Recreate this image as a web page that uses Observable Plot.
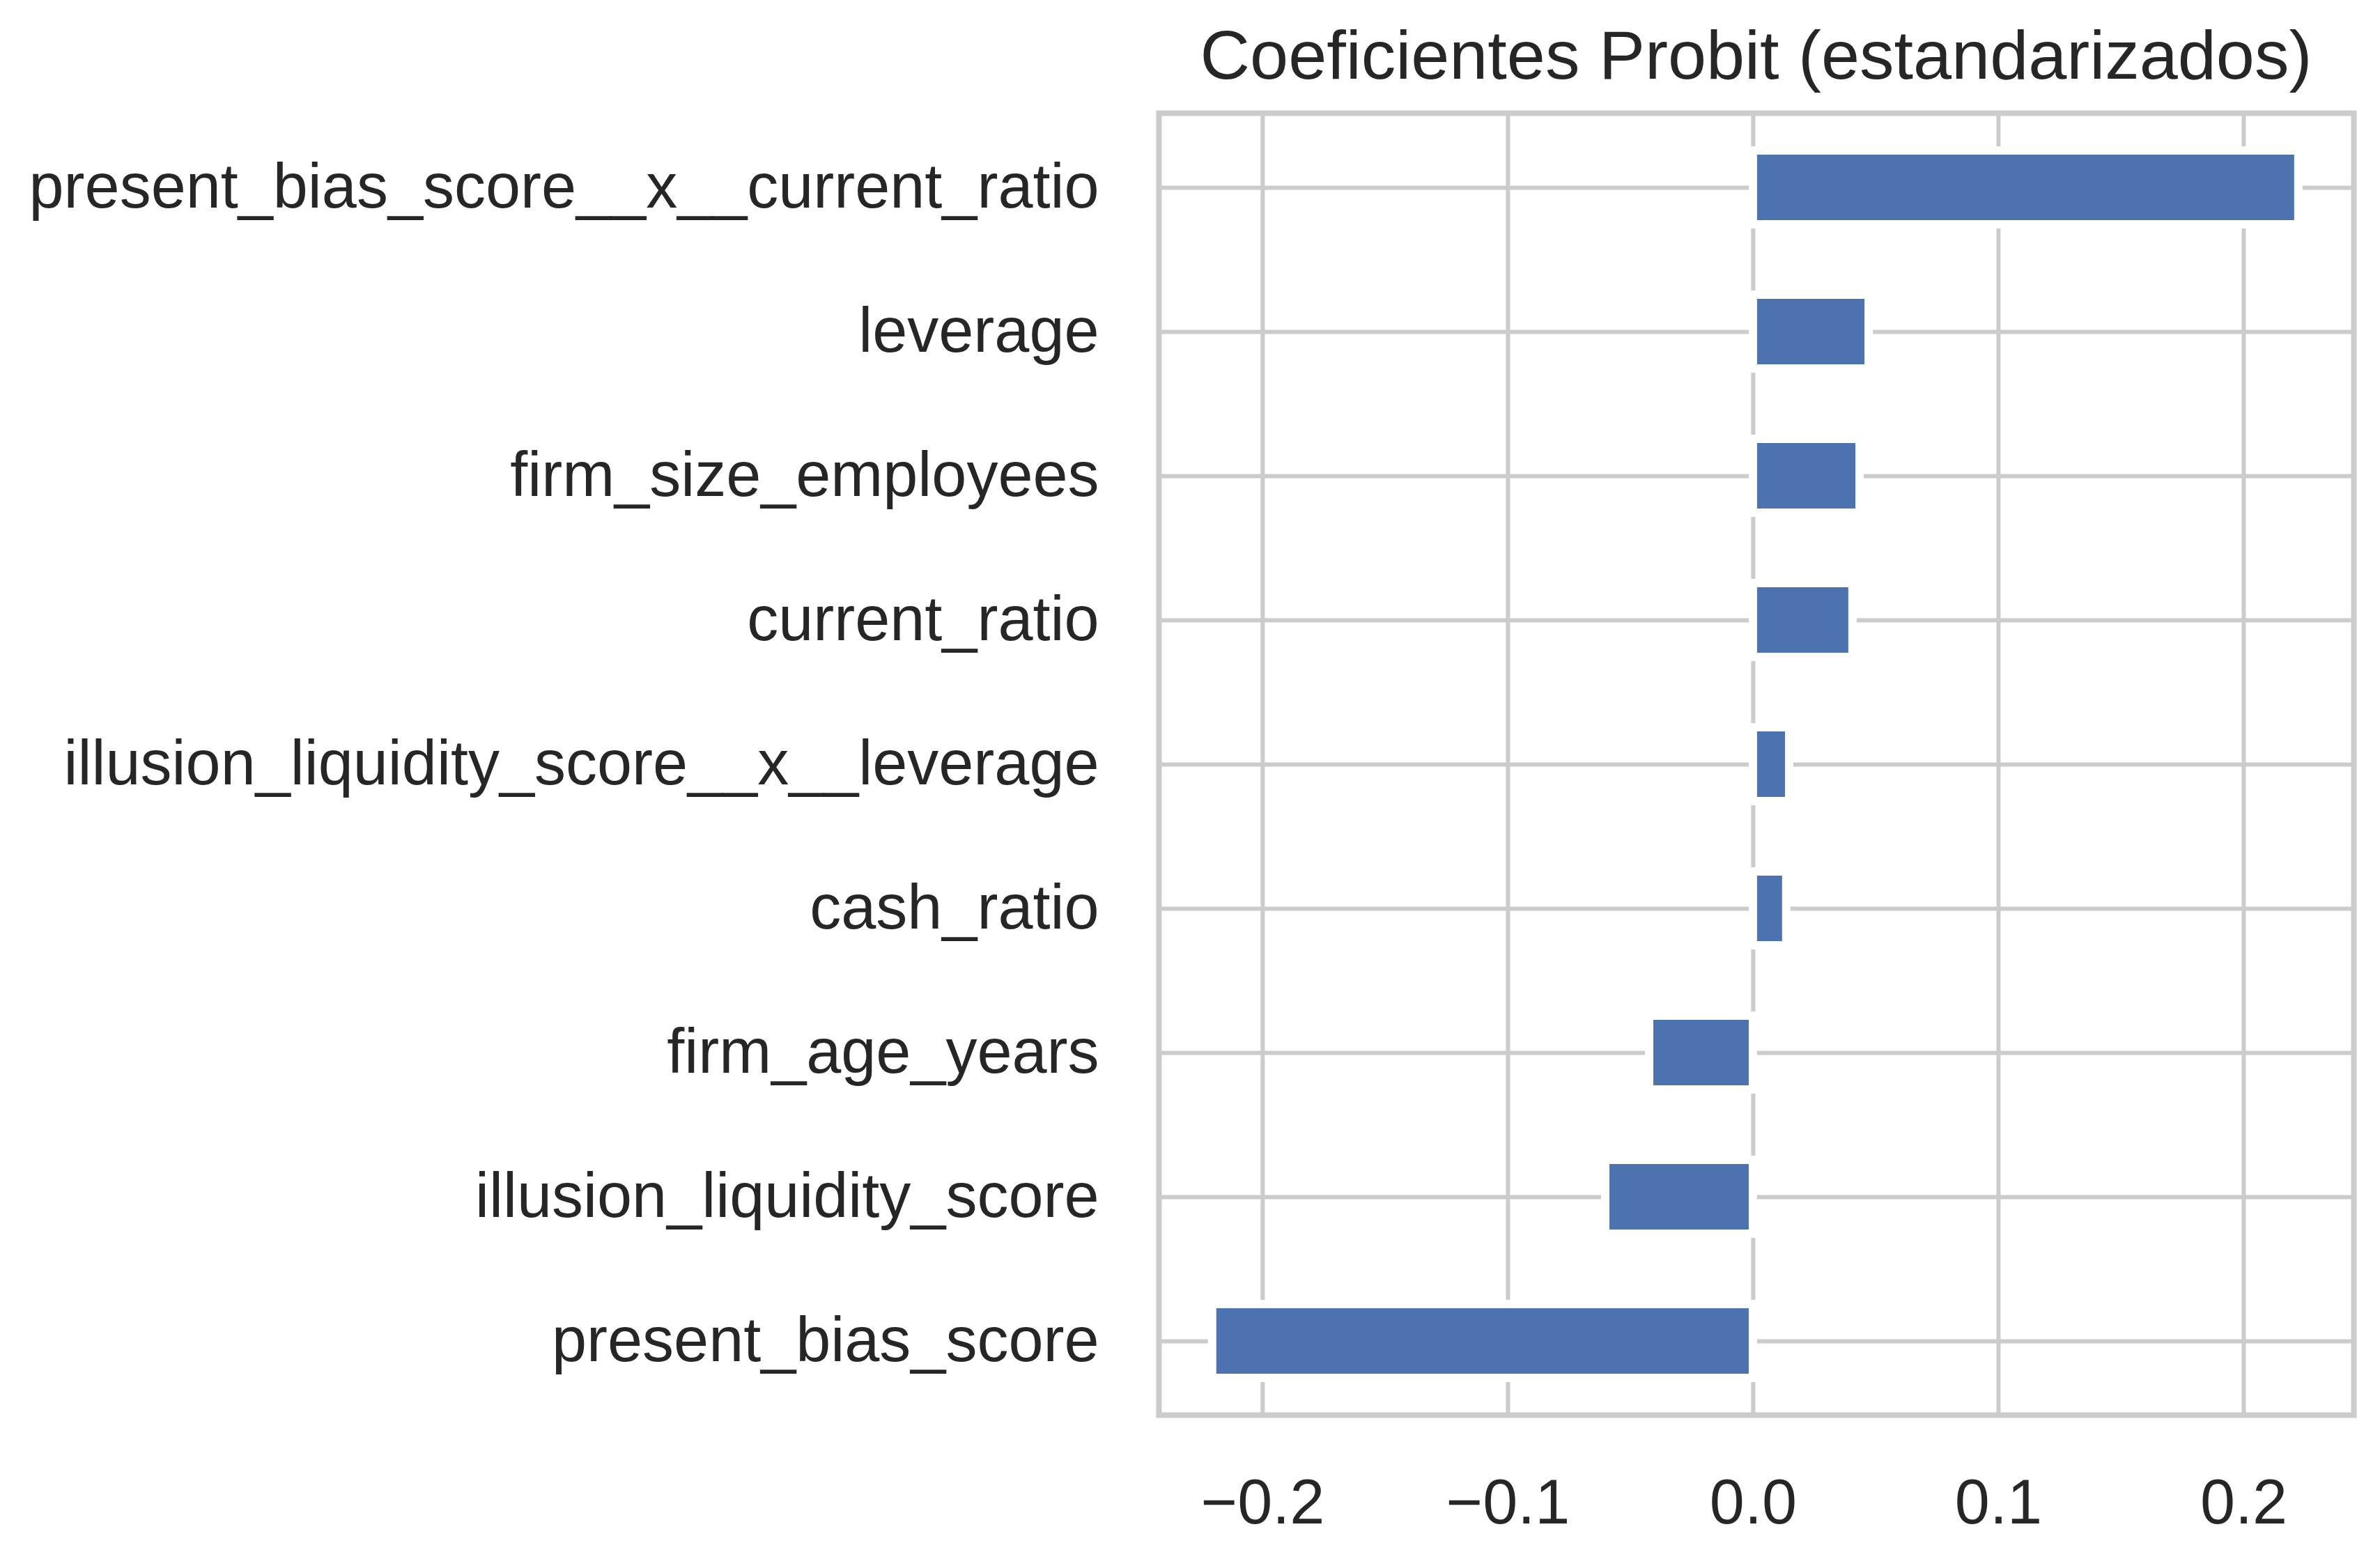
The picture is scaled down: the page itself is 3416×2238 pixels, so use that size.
<!DOCTYPE html>
<html>
<head>
<meta charset="utf-8">
<script src="https://cdn.jsdelivr.net/npm/d3@7"></script>
<script src="https://cdn.jsdelivr.net/npm/@observablehq/plot@0.6"></script>
<style>
  html, body { margin: 0; padding: 0; background: #ffffff; }
  body { width: 3416px; height: 2238px; overflow: hidden; font-family: "Liberation Sans", Arial, sans-serif; }
  #title { height: 157px; line-height: 157px; margin-left: 1663px; width: 1715px; text-align: center; font-size: 99px; color: #262626; white-space: nowrap; }
  #chart svg { display: block; }
</style>
</head>
<body>
<div id="title">Coeficientes Probit (estandarizados)</div>
<div id="chart"></div>
<script>
const categories = [
  "present_bias_score__x__current_ratio",
  "leverage",
  "firm_size_employees",
  "current_ratio",
  "illusion_liquidity_score__x__leverage",
  "cash_ratio",
  "firm_age_years",
  "illusion_liquidity_score",
  "present_bias_score"
];
const coefficients = [0.2224, 0.0472, 0.0435, 0.0406, 0.0148, 0.0136, -0.0423, -0.0602, -0.2205];
const xTicks = [-0.2, -0.1, 0.0, 0.1, 0.2];

const data = categories.map((name, i) => ({name, value: coefficients[i]}));

const chart = Plot.plot({
  width: 3416,
  height: 2081,
  marginLeft: 1663,
  marginRight: 38,
  marginTop: 5,
  marginBottom: 207,
  style: {fontFamily: "'Liberation Sans', Arial, sans-serif", background: "#ffffff", color: "#262626"},
  x: {domain: [-0.2423, 0.2449]},
  y: {domain: categories, paddingInner: 0.49, paddingOuter: 0.245},
  marks: [
    Plot.gridX(xTicks, {stroke: "#cccccc", strokeOpacity: 1, strokeWidth: 6}),
    Plot.gridY(categories, {stroke: "#cccccc", strokeOpacity: 1, strokeWidth: 6}),
    Plot.barX(data, {x: "value", y: "name", fill: "#4c72b0", stroke: "#ffffff", strokeWidth: 12}),
    Plot.frame({stroke: "#cccccc", strokeWidth: 8}),
    Plot.axisX({ticks: xTicks, tickSize: 0, tickPadding: 92, fontSize: 90, label: null,
      tickFormat: d => d.toFixed(1).replace("-", "\u2212")}),
    Plot.axisY({tickSize: 0, tickPadding: 86, fontSize: 90, label: null})
  ]
});
document.getElementById("chart").appendChild(chart);
</script>
</body>
</html>
